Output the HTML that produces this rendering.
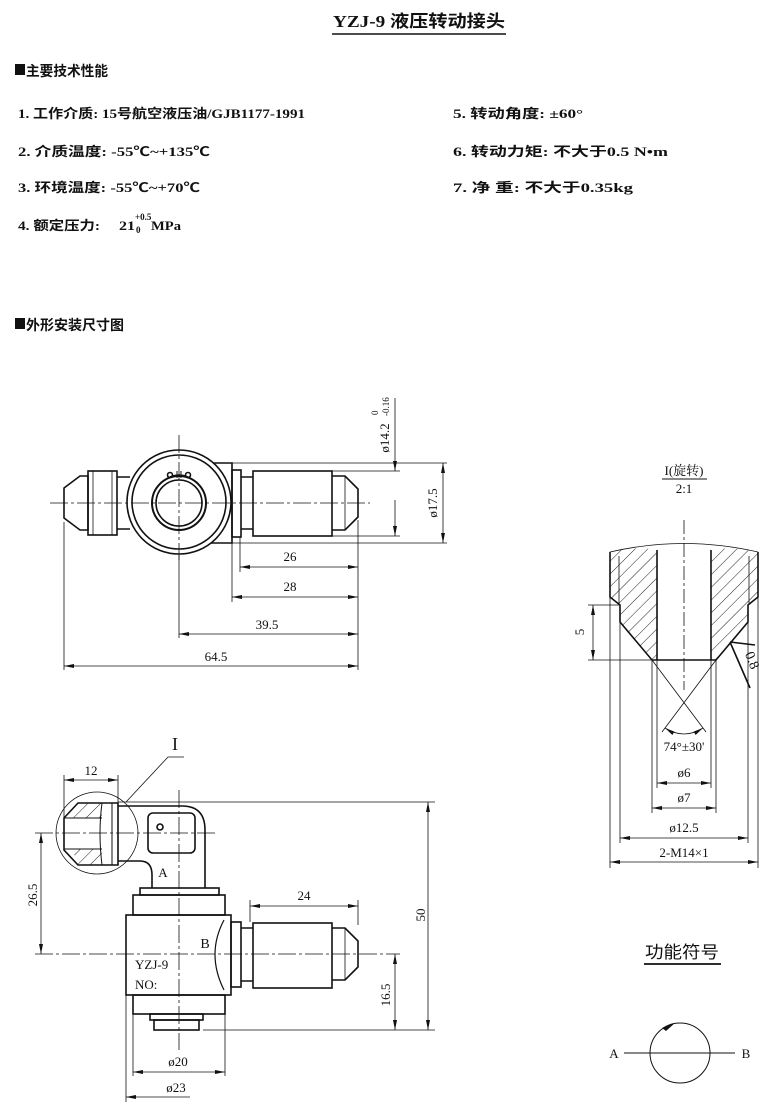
<!DOCTYPE html>
<html><head><meta charset="utf-8">
<style>
html,body{margin:0;padding:0;background:#fff;}
svg{display:block;}
text{font-family:"Liberation Serif","Noto Serif CJK SC",serif;fill:#111;}
.t{font-family:"Liberation Serif","Noto Sans CJK SC",sans-serif;font-weight:bold;}
</style></head><body>
<svg width="781" height="1112" viewBox="0 0 781 1112" xmlns="http://www.w3.org/2000/svg">
<defs>
<marker id="a" viewBox="0 0 10 4" refX="10" refY="2" markerWidth="10" markerHeight="4" orient="auto-start-reverse" markerUnits="userSpaceOnUse"><path d="M0,0 L10,2 L0,4 z" fill="#111"/></marker>
<pattern id="h" width="9" height="9" patternUnits="userSpaceOnUse" patternTransform="rotate(45)"><line x1="0" y1="0" x2="0" y2="9" stroke="#222" stroke-width="1"/></pattern>
</defs>

<!-- header -->
<text class="t" x="333" y="27" font-size="17" textLength="172" lengthAdjust="spacingAndGlyphs">YZJ-9  液压转动接头</text>
<line x1="332" y1="34" x2="506" y2="34" stroke="#111" stroke-width="1.5"/>
<rect x="15" y="64" width="10" height="11" fill="#111"/>
<text class="t" x="26" y="76" font-size="14" textLength="82" lengthAdjust="spacingAndGlyphs">主要技术性能</text>
<g font-size="13">
<text class="t" x="18" y="118" textLength="287" lengthAdjust="spacingAndGlyphs">1. 工作介质:   15号航空液压油/GJB1177-1991</text>
<text class="t" x="18" y="156" textLength="192" lengthAdjust="spacingAndGlyphs">2. 介质温度:   -55℃~+135℃</text>
<text class="t" x="18" y="192" textLength="182" lengthAdjust="spacingAndGlyphs">3. 环境温度:   -55℃~+70℃</text>
<text class="t" x="18" y="230" textLength="82" lengthAdjust="spacingAndGlyphs">4. 额定压力:</text>
<text class="t" x="119" y="230" textLength="16" lengthAdjust="spacingAndGlyphs">21</text>
<text class="t" x="135" y="220" font-size="9">+0.5</text>
<text class="t" x="136" y="233" font-size="9">0</text>
<text class="t" x="151" y="230" textLength="30" lengthAdjust="spacingAndGlyphs">MPa</text>
<text class="t" x="453" y="118" textLength="130" lengthAdjust="spacingAndGlyphs">5. 转动角度:  ±60°</text>
<text class="t" x="453" y="156" textLength="215" lengthAdjust="spacingAndGlyphs">6. 转动力矩:  不大于0.5 N•m</text>
<text class="t" x="453" y="192" textLength="180" lengthAdjust="spacingAndGlyphs">7. 净  重:   不大于0.35kg</text>
</g>
<rect x="15" y="318" width="10" height="11" fill="#111"/>
<text class="t" x="26" y="330" font-size="14" textLength="98" lengthAdjust="spacingAndGlyphs">外形安装尺寸图</text>

<g fill="none" stroke="#111" stroke-width="1.6">
<!-- TOP VIEW -->
<path d="M64,488 L80,476 L88,476 L88,530 L80,530 L64,518 Z"/>
<rect x="88" y="471" width="29" height="64"/>
<line x1="93" y1="471" x2="93" y2="535" stroke-width="0.8"/>
<line x1="112" y1="471" x2="112" y2="535" stroke-width="0.8"/>
<path d="M117,477 L130,477 M117,529 L130,529"/>
<path d="M200,463 L232,463 L232,543 L200,543"/>
<circle cx="179" cy="502" r="52" fill="#fff"/>
<circle cx="179" cy="502" r="47"/>
<circle cx="179" cy="503" r="27" stroke-width="2"/>
<circle cx="179" cy="503" r="23"/>
<path d="M168,478 Q179,472 190,478" stroke-width="1.4"/>
<circle cx="170" cy="475" r="2.5"/><circle cx="188" cy="475" r="2.5"/>
<path d="M177,471 L177,478 M181,471 L181,478" stroke-width="1"/>
<rect x="232" y="470" width="9" height="67"/>
<path d="M241,477 L253,477 M241,529 L253,529"/>
<rect x="253" y="471" width="79" height="65"/>
<path d="M332,476 L345,476 L358,489 L358,517 L345,530 L332,530"/>
<line x1="345" y1="476" x2="345" y2="530" stroke-width="0.8"/>
</g>
<g stroke="#111" stroke-width="0.8" fill="none">
<path d="M50,503 L370,503" stroke-dasharray="18,3,3,3"/>
<path d="M179,435 L179,560" stroke-dasharray="18,3,3,3"/>
<path d="M240,537 V572 M232,543 V602 M358,520 V670 M179,555 V638 M64,522 V670"/>
<line x1="240" y1="567" x2="358" y2="567" marker-start="url(#a)" marker-end="url(#a)"/>
<line x1="232" y1="597" x2="358" y2="597" marker-start="url(#a)" marker-end="url(#a)"/>
<line x1="179" y1="634" x2="358" y2="634" marker-start="url(#a)" marker-end="url(#a)"/>
<line x1="64" y1="666" x2="358" y2="666" marker-start="url(#a)" marker-end="url(#a)"/>
<path d="M232,463 H447 M232,543 H447 M332,471 H400 M332,536 H400"/>
<line x1="443" y1="463" x2="443" y2="543" marker-start="url(#a)" marker-end="url(#a)"/>
<line x1="395" y1="398" x2="395" y2="471" marker-end="url(#a)"/>
<line x1="395" y1="500" x2="395" y2="536" marker-end="url(#a)"/>
</g>
<g font-size="13">
<text x="290" y="561" text-anchor="middle">26</text>
<text x="290" y="591" text-anchor="middle">28</text>
<text x="267" y="629" text-anchor="middle">39.5</text>
<text x="216" y="661" text-anchor="middle">64.5</text>
<text transform="translate(437,503) rotate(-90)" text-anchor="middle">ø17.5</text>
<text transform="translate(389,438) rotate(-90)" text-anchor="middle">ø14.2</text>
<text transform="translate(378,415) rotate(-90)" font-size="9">0</text>
<text transform="translate(389,416) rotate(-90)" font-size="9">-0.16</text>
</g>

<!-- BOTTOM VIEW -->
<g fill="none" stroke="#111" stroke-width="1.6">
<path d="M118,806 L182,806 Q205,806 205,830 L205,888 M118,861 L140,861 Q152,861 152,875 L152,888"/>
<rect x="148" y="813" width="47" height="40" rx="5"/>
<circle cx="160" cy="827" r="3"/>
<path d="M64,818 L78,803 L118,803 L118,865 L78,865 L64,850 Z"/>
<path d="M78,803 L102,803 L102,818 L72,818 Z" fill="url(#h)" stroke-width="0"/>
<path d="M72,849 L102,849 L102,865 L78,865 Z" fill="url(#h)" stroke-width="0"/>
<path d="M64,818 L102,818 M64,849 L102,849 M102,803 Q98,833 102,865 M112,803 V865" stroke-width="1"/>
<circle cx="97" cy="833" r="41" stroke-width="0.8"/>
<rect x="140" y="888" width="79" height="7"/>
<rect x="133" y="895" width="92" height="20"/>
<rect x="126" y="915" width="105" height="80"/>
<path d="M224,920 Q206,954 224,990" stroke-width="1.2"/>
<rect x="133" y="995" width="92" height="19"/>
<rect x="150" y="1014" width="53" height="6"/>
<rect x="154" y="1020" width="45" height="10"/>
<rect x="231" y="922" width="10" height="65"/>
<path d="M241,928 L253,928 M241,981 L253,981"/>
<rect x="253" y="923" width="79" height="65"/>
<path d="M332,928 L345,928 L358,941 L358,967 L345,980 L332,980"/>
<line x1="345" y1="928" x2="345" y2="980" stroke-width="0.8"/>
</g>
<g stroke="#111" stroke-width="0.8" fill="none">
<path d="M35,833 L215,833" stroke-dasharray="18,3,3,3"/>
<path d="M35,954 L400,954" stroke-dasharray="18,3,3,3"/>
<path d="M179,790 L179,1050" stroke-dasharray="18,3,3,3"/>
<path d="M64,775 V818 M118,775 V805"/>
<line x1="64" y1="780" x2="118" y2="780" marker-start="url(#a)" marker-end="url(#a)"/>
<path d="M126,802 L168,757 L184,757"/>
<path d="M118,802 H435 M203,1030 H435"/>
<line x1="428" y1="802" x2="428" y2="1030" marker-start="url(#a)" marker-end="url(#a)"/>
<line x1="395" y1="954" x2="395" y2="1030" marker-start="url(#a)" marker-end="url(#a)"/>
<line x1="41" y1="833" x2="41" y2="954" marker-start="url(#a)" marker-end="url(#a)"/>
<path d="M250,922 V900 M358,925 V900"/>
<line x1="250" y1="906" x2="358" y2="906" marker-start="url(#a)" marker-end="url(#a)"/>
<path d="M133,1014 V1076 M225,1014 V1076 M126,995 V1102"/>
<line x1="133" y1="1072" x2="225" y2="1072" marker-start="url(#a)" marker-end="url(#a)"/>
<line x1="126" y1="1097" x2="190" y2="1097" marker-start="url(#a)"/>
</g>
<g font-size="13">
<text x="91" y="775" text-anchor="middle">12</text>
<text x="175" y="750" font-size="18" text-anchor="middle">I</text>
<text x="163" y="877" text-anchor="middle">A</text>
<text x="205" y="948" font-size="14" text-anchor="middle">B</text>
<text x="135" y="969">YZJ-9</text>
<text x="135" y="989">NO:</text>
<text x="304" y="900" text-anchor="middle">24</text>
<text transform="translate(425,915) rotate(-90)" text-anchor="middle">50</text>
<text transform="translate(390,995) rotate(-90)" text-anchor="middle">16.5</text>
<text transform="translate(37,895) rotate(-90)" text-anchor="middle">26.5</text>
<text x="178" y="1066" text-anchor="middle">ø20</text>
<text x="176" y="1092" text-anchor="middle">ø23</text>
</g>

<!-- DETAIL -->
<text x="684" y="475" font-size="13" text-anchor="middle">I(旋转)</text>
<line x1="662" y1="479" x2="707" y2="479" stroke="#111" stroke-width="1"/>
<text x="684" y="493" font-size="13" text-anchor="middle">2:1</text>
<path d="M610,552 Q635,546 657,550 L657,660 L652,660 L620,622 L620,605 L610,597 Z" fill="url(#h)"/>
<path d="M758,552 Q733,546 711,550 L711,660 L716,660 L748,622 L748,605 L758,597 Z" fill="url(#h)"/>
<g fill="none" stroke="#111" stroke-width="1.6">
<path d="M610,552 L610,597 L620,605 L620,622 L652,660 L716,660 L748,622 L748,605 L758,597 L758,552"/>
<path d="M657,550 V660 M711,550 V660"/>
<path d="M730,642 L750,688 M730,642 L755,645"/>
</g>
<g stroke="#111" stroke-width="0.8" fill="none">
<path d="M610,552 Q684,535 758,552"/>
<path d="M619,556 V605 M749,556 V605"/>
<path d="M684,520 V690" stroke-dasharray="14,3,3,3"/>
<path d="M652,660 L706,732 M716,660 L662,732"/>
<path d="M665,728 Q684,740 703,728" marker-start="url(#a)" marker-end="url(#a)"/>
<path d="M588,605 H620 M588,660 H652"/>
<line x1="593" y1="605" x2="593" y2="660" marker-start="url(#a)" marker-end="url(#a)"/>
<path d="M657,660 V788 M711,660 V788 M652,660 V813 M716,660 V813 M620,622 V843 M748,622 V843 M610,597 V868 M758,597 V868"/>
<line x1="657" y1="783" x2="711" y2="783" marker-start="url(#a)" marker-end="url(#a)"/>
<line x1="652" y1="808" x2="716" y2="808" marker-start="url(#a)" marker-end="url(#a)"/>
<line x1="620" y1="838" x2="748" y2="838" marker-start="url(#a)" marker-end="url(#a)"/>
<line x1="610" y1="862" x2="758" y2="862" marker-start="url(#a)" marker-end="url(#a)"/>
</g>
<g font-size="13">
<text transform="translate(584,632) rotate(-90)" text-anchor="middle">5</text>
<text transform="translate(748,662) rotate(68)" text-anchor="middle" font-size="14">0.8</text>
<text x="684" y="751" text-anchor="middle">74°±30'</text>
<text x="684" y="777" text-anchor="middle">ø6</text>
<text x="684" y="802" text-anchor="middle">ø7</text>
<text x="684" y="832" text-anchor="middle">ø12.5</text>
<text x="684" y="857" text-anchor="middle">2-M14×1</text>
</g>

<!-- function symbol -->
<text x="645" y="958" font-size="17" textLength="74" lengthAdjust="spacingAndGlyphs" style="font-family:'Noto Sans CJK SC',sans-serif">功能符号</text>
<line x1="644" y1="964" x2="721" y2="964" stroke="#111" stroke-width="1.8"/>
<circle cx="680" cy="1053" r="30" fill="none" stroke="#111" stroke-width="1"/>
<line x1="624" y1="1053" x2="735" y2="1053" stroke="#111" stroke-width="1"/>
<path d="M662,1028 L675,1023 L666,1031 Z" fill="#111"/>
<text x="614" y="1058" font-size="13" text-anchor="middle">A</text>
<text x="746" y="1058" font-size="13" text-anchor="middle">B</text>
</svg>
</body></html>
